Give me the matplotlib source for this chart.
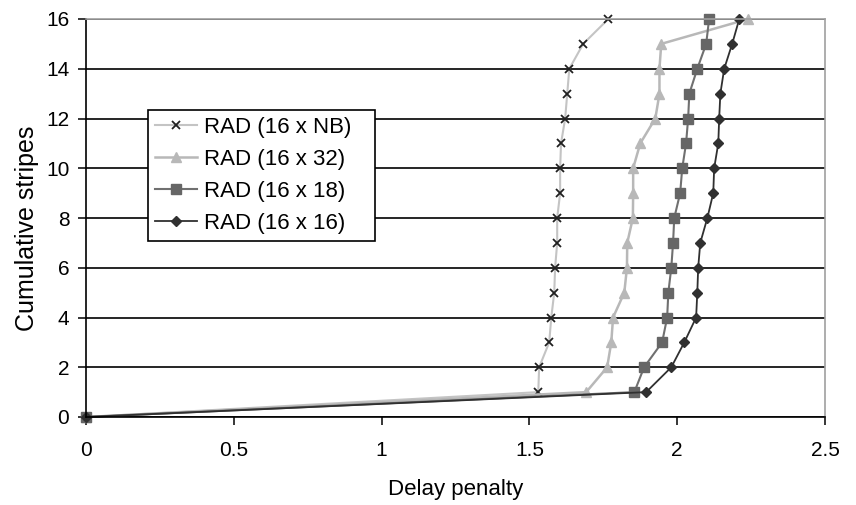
import matplotlib
matplotlib.use('Agg')
import matplotlib.pyplot as plt

plt.rcParams['font.family'] = ['Liberation Sans', 'DejaVu Sans']

# Cumulative stripes (y) for every series
stripes = list(range(17))

# Delay penalty (x), stripe 0..16
rad_nb = [0, 1.530, 1.533, 1.567, 1.574, 1.584, 1.587, 1.594, 1.594, 1.604,
          1.604, 1.607, 1.621, 1.628, 1.635, 1.682, 1.767]
rad_32 = [0, 1.692, 1.763, 1.777, 1.783, 1.821, 1.830, 1.831, 1.850, 1.851,
          1.851, 1.875, 1.926, 1.940, 1.940, 1.946, 2.240]
rad_18 = [0, 1.855, 1.888, 1.949, 1.966, 1.970, 1.980, 1.986, 1.990, 2.010,
          2.017, 2.030, 2.037, 2.041, 2.068, 2.098, 2.108]
rad_16 = [0, 1.895, 1.980, 2.024, 2.064, 2.068, 2.071, 2.078, 2.102, 2.122,
          2.125, 2.139, 2.142, 2.146, 2.159, 2.186, 2.210]

labels = ['RAD (16 x NB)', 'RAD (16 x 32)', 'RAD (16 x 18)', 'RAD (16 x 16)']

fig = plt.figure(figsize=(8.56, 5.05), dpi=100)
ax = fig.add_axes([86 / 856, 88 / 505, 739 / 856, 398 / 505])

ax.plot(rad_nb, stripes, color='#c4c4c4', lw=1.5, marker='x', ms=6,
        mec='#202020', mew=1.3, label=labels[0], clip_on=False)
ax.plot(rad_32, stripes, color='#b8b8b8', lw=1.8, marker='^', ms=6.5,
        mfc='#b8b8b8', mec='#b8b8b8', label=labels[1], clip_on=False)
ax.plot(rad_18, stripes, color='#707070', lw=1.5, marker='s', ms=6.5,
        mfc='#666666', mec='#666666', label=labels[2], clip_on=False)
ax.plot(rad_16, stripes, color='#303030', lw=1.3, marker='D', ms=5,
        mfc='#303030', mec='#303030', label=labels[3], clip_on=False)

ax.set_xlim(0, 2.5)
ax.set_ylim(0, 16)
ax.set_xticks([0, 0.5, 1, 1.5, 2, 2.5])
ax.set_xticklabels(['0', '0.5', '1', '1.5', '2', '2.5'])
ax.set_yticks(range(0, 17, 2))
ax.yaxis.grid(True, color='black', lw=1.2)
ax.set_axisbelow(True)

for side in ['top', 'right']:
    ax.spines[side].set_color('#a0a0a0')
    ax.spines[side].set_linewidth(1.2)
for side in ['left', 'bottom']:
    ax.spines[side].set_color('black')
    ax.spines[side].set_linewidth(1.2)

ax.tick_params(axis='both', direction='out', length=6, width=1.1,
               labelsize=15, colors='black')
ax.tick_params(axis='x', pad=11)
ax.tick_params(axis='y', pad=6)

ax.set_xlabel('Delay penalty', fontsize=16)
ax.set_ylabel('Cumulative stripes', fontsize=18)
ax.xaxis.set_label_coords(0.5, -0.156)
ax.yaxis.set_label_coords(-0.0636, 0.475)

# legend box stretched to the width seen in the reference
leg = ax.legend(loc='upper left', bbox_to_anchor=(0.084, 0.771, 0.307, 0),
                mode='expand', fontsize=16, frameon=True, fancybox=False,
                edgecolor='black', framealpha=1, borderpad=0.3,
                borderaxespad=0, handlelength=1.9, labelspacing=0.5,
                handletextpad=0.3)
leg.get_frame().set_linewidth(1.2)

fig.savefig('out.png', dpi=100)
